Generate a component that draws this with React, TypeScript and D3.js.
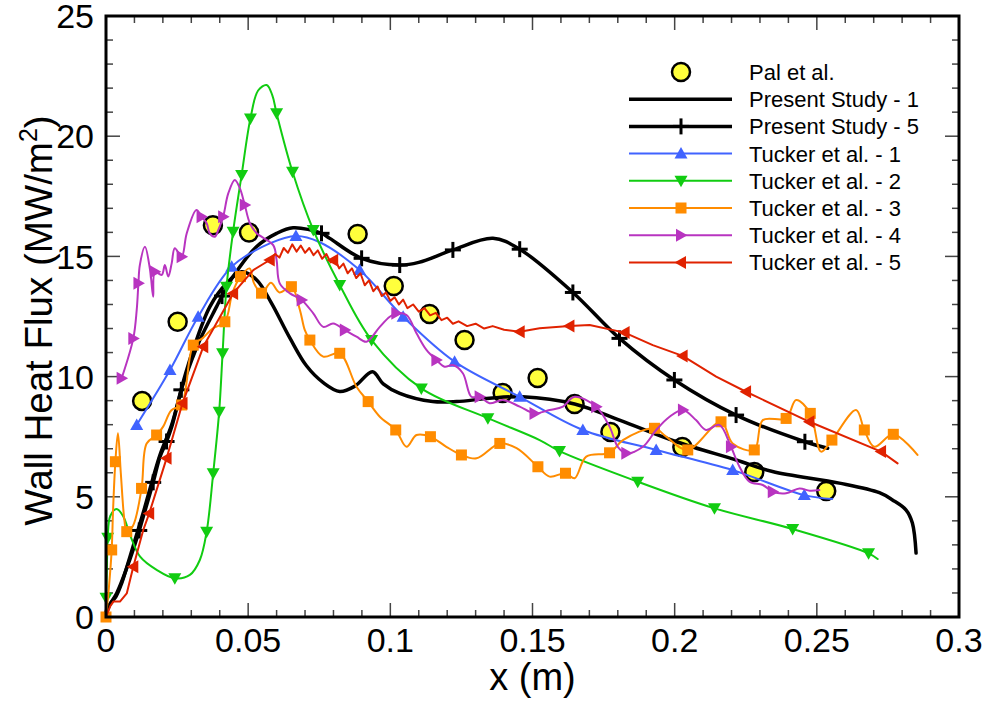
import React from "react";
import * as d3 from "d3";

type Pt = [number, number];

// experimental data (yellow circles)
const palEtAl: Pt[] = [
  [0.0127, 8.99], [0.0252, 12.28], [0.0376, 16.3], [0.0503, 15.99], [0.0885, 15.93],
  [0.1012, 13.77], [0.1138, 12.6], [0.1261, 11.52], [0.1395, 9.32], [0.1518, 9.94],
  [0.1648, 8.86], [0.1774, 7.7], [0.2027, 7.07], [0.228, 6.03], [0.2533, 5.24],
];

const presentStudy1: Pt[] = [
  [0, 0.1], [0.0015, 0.55], [0.0035, 0.85], [0.0055, 1.4], [0.0084, 2.5], [0.013, 4.3],
  [0.019, 6.75], [0.0231, 8.0], [0.0272, 9.8], [0.0306, 11.1], [0.0365, 12.9], [0.0424, 13.88],
  [0.0477, 14.36], [0.053, 14.02], [0.058, 13.1], [0.0647, 11.6], [0.0705, 10.45], [0.0764, 9.75],
  [0.0822, 9.38], [0.0875, 9.6], [0.0937, 10.2], [0.0975, 9.7], [0.1033, 9.3], [0.1149, 8.96],
  [0.1233, 8.96], [0.1349, 9.1], [0.1465, 9.16], [0.1648, 8.86], [0.1806, 8.19], [0.2006, 7.29],
  [0.2217, 6.53], [0.2344, 6.05], [0.2579, 5.57], [0.272, 5.17], [0.2766, 4.87], [0.2814, 4.45],
  [0.2836, 3.91], [0.2849, 2.66],
];

const presentStudy5: Pt[] = [
  [0, 0.05], [0.0002, 0.29], [0.0038, 1.0], [0.0084, 2.4], [0.0117, 3.6], [0.0131, 4.17],
  [0.0166, 5.6], [0.019, 6.67], [0.0213, 7.3], [0.0231, 7.9], [0.0265, 9.45], [0.0272, 9.72],
  [0.033, 11.52], [0.0389, 12.91], [0.0408, 13.35], [0.0447, 14.16], [0.053, 15.41], [0.06, 15.96],
  [0.0658, 16.19], [0.0758, 15.96], [0.0787, 15.75], [0.0899, 14.92], [0.1033, 14.64], [0.11, 14.75],
  [0.122, 15.27], [0.1361, 15.75], [0.1455, 15.3], [0.1642, 13.5], [0.1806, 11.59], [0.1999, 9.86],
  [0.2216, 8.4], [0.2458, 7.29], [0.2538, 7.02],
];
const presentStudy5Marks = [
  0.0117, 0.0166, 0.0213, 0.0265, 0.0408, 0.0758, 0.0899, 0.1033, 0.122, 0.1455, 0.1642,
  0.1806, 0.1999, 0.2216, 0.2458,
];

const tucker1: Pt[] = [
  [0.0108, 7.99], [0.0225, 10.27], [0.0324, 12.49], [0.0442, 14.57], [0.0576, 15.54],
  [0.0668, 15.85], [0.075, 15.6], [0.0892, 14.43], [0.1045, 12.49], [0.1226, 10.62],
  [0.1455, 9.16], [0.1677, 7.78], [0.1935, 6.95], [0.2204, 6.11], [0.2456, 5.07], [0.2554, 4.91],
];
const tucker1Marks = [
  0.0108, 0.0225, 0.0324, 0.0442, 0.0668, 0.0892, 0.1045, 0.1226, 0.1455, 0.1677, 0.1935,
  0.2204, 0.2456,
];

const tucker2: Pt[] = [
  [0, 0.8], [0.0003, 2.0], [0.0006, 3.3], [0.0015, 4.2], [0.0037, 4.49], [0.006, 4.2],
  [0.0085, 3.4], [0.012, 2.51], [0.0178, 1.96], [0.0242, 1.61], [0.0295, 1.75], [0.033, 2.37],
  [0.0354, 3.55], [0.0377, 5.98], [0.0398, 8.54], [0.041, 10.97], [0.0424, 13.74], [0.0447, 16.03],
  [0.0477, 18.39], [0.0508, 20.74], [0.0535, 21.9], [0.0565, 22.13], [0.0585, 21.7], [0.06, 20.95],
  [0.0656, 18.52], [0.0729, 16.1], [0.0822, 13.81], [0.0934, 11.52], [0.1109, 9.51], [0.1343, 8.27],
  [0.1525, 7.36], [0.1595, 6.9], [0.187, 5.63], [0.214, 4.52], [0.2415, 3.66], [0.2682, 2.65],
  [0.2714, 2.41],
];
const tucker2Marks = [
  0, 0.0006, 0.0242, 0.0354, 0.0377, 0.0398, 0.041, 0.0424, 0.0447, 0.0477, 0.0508, 0.06,
  0.0656, 0.0729, 0.0822, 0.0934, 0.1109, 0.1343, 0.1595, 0.187, 0.214, 0.2415, 0.2682,
];

const tucker3: Pt[] = [
  [0, 0], [0.001, 1.2], [0.002, 2.79], [0.0025, 4.5], [0.0033, 6.46], [0.0042, 7.64], [0.0052, 6.0],
  [0.0065, 4.0], [0.0073, 3.55], [0.0095, 3.8], [0.0125, 5.35], [0.0143, 7.22], [0.0178, 7.57],
  [0.0201, 7.92], [0.023, 8.6], [0.0266, 8.82], [0.028, 9.5], [0.0307, 11.31], [0.034, 11.6],
  [0.0375, 12.0], [0.0418, 12.28], [0.0445, 13.5], [0.0473, 14.16], [0.0505, 14.5], [0.052, 13.9],
  [0.0547, 13.47], [0.058, 13.9], [0.061, 13.5], [0.0652, 13.74], [0.0682, 12.77], [0.0699, 11.94],
  [0.0717, 11.52], [0.0764, 10.83], [0.0822, 10.97], [0.0881, 9.58], [0.0922, 8.96], [0.0963, 8.33],
  [0.1019, 7.78], [0.1057, 7.08], [0.1092, 7.57], [0.1141, 7.5], [0.1197, 7.08], [0.125, 6.74],
  [0.1303, 6.6], [0.1385, 7.22], [0.1444, 7.02], [0.1519, 6.25], [0.156, 5.84], [0.1616, 5.98],
  [0.1648, 5.77], [0.1689, 6.67], [0.1771, 6.83], [0.1818, 7.36], [0.1929, 7.85], [0.197, 7.5],
  [0.2046, 6.95], [0.2163, 8.12], [0.2204, 7.22], [0.228, 6.95], [0.231, 8.19], [0.2392, 8.26],
  [0.2427, 9.03], [0.2477, 8.47], [0.2515, 6.88], [0.2553, 7.36], [0.2638, 8.61], [0.2667, 7.78],
  [0.2702, 7.08], [0.2769, 7.6], [0.2854, 6.74],
];
const tucker3Marks = [
  0, 0.002, 0.0033, 0.0073, 0.0125, 0.0178, 0.0266, 0.0307, 0.0418, 0.0473, 0.0547, 0.0652,
  0.0717, 0.0822, 0.0922, 0.1019, 0.1141, 0.125, 0.1385, 0.1519, 0.1616, 0.1771, 0.1929, 0.2046,
  0.2163, 0.228, 0.2392, 0.2477, 0.2553, 0.2667, 0.2769,
];

const tucker4: Pt[] = [
  [0.0055, 9.93], [0.0096, 11.59], [0.0108, 12.77], [0.0114, 13.88], [0.0119, 14.64], [0.0137, 15.4],
  [0.0155, 14.43], [0.0166, 13.32], [0.0172, 14.36], [0.0196, 14.23], [0.0207, 14.64], [0.0219, 14.16],
  [0.0231, 14.71], [0.0242, 15.34], [0.0266, 14.99], [0.0284, 15.96], [0.0318, 16.93], [0.0336, 16.65],
  [0.0354, 16.38], [0.0365, 15.96], [0.0383, 15.82], [0.0395, 16.1], [0.0412, 16.65], [0.043, 17.62],
  [0.0453, 18.18], [0.0471, 17.83], [0.0488, 17.14], [0.0506, 16.38], [0.053, 15.96], [0.0588, 15.47],
  [0.06, 14.85], [0.0611, 13.88], [0.0647, 13.46], [0.0688, 13.19], [0.0729, 12.63], [0.0764, 12.07],
  [0.0799, 12.21], [0.084, 11.94], [0.0881, 11.66], [0.0916, 11.45], [0.0963, 12.07], [0.0998, 12.49],
  [0.1021, 12.63], [0.1057, 12.56], [0.1092, 11.8], [0.1127, 11.11], [0.1162, 10.69], [0.1191, 10.41],
  [0.122, 10.48], [0.1255, 10.14], [0.1285, 9.16], [0.1314, 9.16], [0.1349, 8.89], [0.1396, 9.03],
  [0.1455, 8.75], [0.1507, 8.47], [0.156, 8.61], [0.1607, 8.75], [0.1648, 9.16], [0.1724, 8.75],
  [0.1771, 7.92], [0.18, 7.08], [0.183, 6.81], [0.1888, 7.08], [0.1935, 7.78], [0.1982, 8.33],
  [0.2029, 8.61], [0.2075, 8.19], [0.211, 7.78], [0.2157, 7.99], [0.2198, 7.08], [0.2228, 6.25],
  [0.2263, 5.63], [0.231, 5.49], [0.2345, 5.21], [0.2392, 5.15], [0.2439, 5.35], [0.2475, 5.25],
  [0.2509, 5.28],
];
const tucker4Marks = [
  0.0055, 0.0096, 0.0114, 0.0172, 0.0266, 0.0336, 0.0412, 0.0488, 0.0688, 0.084, 0.1021, 0.1162,
  0.1314, 0.1507, 0.1724, 0.183, 0.2029, 0.2198, 0.2345,
];

const tucker5: Pt[] = [
  [0, 0], [0.0015, 0.45], [0.0026, 0.64], [0.0049, 0.64], [0.0073, 0.98], [0.0096, 2.09],
  [0.0131, 3.62], [0.0152, 4.31], [0.0213, 6.6], [0.0269, 8.89], [0.0342, 11.24], [0.0447, 13.46],
  [0.0518, 14.43], [0.0576, 14.85], [0.0595, 15.1], [0.061, 14.95], [0.0625, 15.35], [0.064, 15.15],
  [0.0655, 15.5], [0.067, 15.2], [0.0685, 15.45], [0.07, 15.15], [0.0715, 15.35], [0.073, 15.05],
  [0.0745, 15.25], [0.076, 14.9], [0.0775, 15.1], [0.079, 14.75], [0.0805, 14.9], [0.082, 14.5],
  [0.0835, 14.7], [0.085, 14.3], [0.0865, 14.5], [0.088, 14.1], [0.0895, 14.3], [0.091, 13.8],
  [0.0925, 14.0], [0.094, 13.55], [0.0955, 13.75], [0.097, 13.35], [0.0985, 13.5], [0.1, 13.15],
  [0.1015, 13.3], [0.103, 13.0], [0.1045, 13.2], [0.106, 12.85], [0.108, 13.0], [0.11, 12.7],
  [0.112, 12.85], [0.114, 12.55], [0.116, 12.65], [0.118, 12.35], [0.12, 12.45], [0.122, 12.2],
  [0.124, 12.3], [0.127, 12.1], [0.13, 12.2], [0.133, 12.0], [0.136, 12.1], [0.14, 11.95],
  [0.1455, 11.87], [0.1525, 12.01], [0.163, 12.1], [0.1701, 12.15], [0.1824, 11.83], [0.1923, 11.31],
  [0.2028, 10.86], [0.2146, 10.0], [0.2251, 9.37], [0.2474, 8.12], [0.2726, 6.88], [0.2784, 6.39],
];
const tucker5Marks = [
  0.0096, 0.0152, 0.0213, 0.0269, 0.0342, 0.0447, 0.0576, 0.0799, 0.1455, 0.163, 0.1824, 0.2028,
  0.2251, 0.2474, 0.2726,
];

const xTicks = [0, 0.05, 0.1, 0.15, 0.2, 0.25, 0.3];
const xTickLabels = ["0", "0.05", "0.1", "0.15", "0.2", "0.25", "0.3"];
const yTicks = [0, 5, 10, 15, 20, 25];

type MarkerKind = "circle" | "plus" | "up" | "down" | "square" | "right" | "left" | "none";

const FONT = "'Liberation Sans', Arial, Helvetica, sans-serif";

const W = 987;
const H = 702;
const L = 106, R = 959, T = 16, B = 617;

const x = d3.scaleLinear().domain([0, 0.3]).range([L, R]);
const y = d3.scaleLinear().domain([0, 25]).range([B, T]);

const interp = (pts: Pt[], xv: number): number => {
  for (let i = 0; i < pts.length; i++) {
    if (pts[i][0] === xv) return pts[i][1];
  }
  for (let i = 1; i < pts.length; i++) {
    const [x0, y0] = pts[i - 1];
    const [x1, y1] = pts[i];
    if (xv >= x0 && xv <= x1) return y0 + ((xv - x0) / (x1 - x0)) * (y1 - y0);
  }
  return pts[pts.length - 1][1];
};

const Marker = ({ kind, cx, cy, color }: { kind: MarkerKind; cx: number; cy: number; color: string }) => {
  const t = `translate(${cx},${cy})`;
  switch (kind) {
    case "circle":
      return <circle cx={cx} cy={cy} r={9} fill="#ffff3c" stroke="#000" strokeWidth={2.5} />;
    case "plus":
      return (
        <g transform={t} stroke="#000" strokeWidth={3}>
          <line x1={-8} x2={8} y1={0} y2={0} />
          <line x1={0} x2={0} y1={-8} y2={8} />
        </g>
      );
    case "up":
      return <path transform={t} d="M0,-6.5L6.5,5L-6.5,5Z" fill={color} />;
    case "down":
      return <path transform={t} d="M0,6.5L6.5,-5L-6.5,-5Z" fill={color} />;
    case "right":
      return <path transform={t} d="M6.5,0L-5,-6.5L-5,6.5Z" fill={color} />;
    case "left":
      return <path transform={t} d="M-6.5,0L5,-6.5L5,6.5Z" fill={color} />;
    case "square":
      return <rect x={cx - 5.5} y={cy - 5.5} width={11} height={11} fill={color} />;
    default:
      return null;
  }
};

interface Series {
  label: string;
  color: string;
  width: number;
  marker: MarkerKind;
  data: Pt[];
  marks: number[];
  curve: d3.CurveFactory;
}

const smooth = d3.curveCatmullRom.alpha(0.5);

const series: Series[] = [
  { label: "Present Study - 1", color: "#000", width: 3.5, marker: "none", data: presentStudy1, marks: [], curve: smooth },
  { label: "Present Study - 5", color: "#000", width: 3.5, marker: "plus", data: presentStudy5, marks: presentStudy5Marks, curve: smooth },
  { label: "Tucker et al. - 1", color: "#4063ff", width: 2, marker: "up", data: tucker1, marks: tucker1Marks, curve: smooth },
  { label: "Tucker et al. - 2", color: "#11cc11", width: 2, marker: "down", data: tucker2, marks: tucker2Marks, curve: smooth },
  { label: "Tucker et al. - 3", color: "#ff8c00", width: 2, marker: "square", data: tucker3, marks: tucker3Marks, curve: smooth },
  { label: "Tucker et al. - 4", color: "#b834c0", width: 2, marker: "right", data: tucker4, marks: tucker4Marks, curve: smooth },
  { label: "Tucker et al. - 5", color: "#e02200", width: 2, marker: "left", data: tucker5, marks: tucker5Marks, curve: d3.curveLinear },
];

export default function App() {
  const minorX = d3.range(0, 0.3001, 0.01);
  const minorY = d3.range(0, 25.001, 1);
  const legendRow = (i: number) => 72 + i * 27.2;

  return (
    <svg
      width={W}
      height={H}
      style={{ position: "absolute", left: 0, top: 0, background: "#fff" }}
      fontFamily={FONT}
    >
      <rect x={0} y={0} width={W} height={H} fill="#fff" />

      {/* ticks, inward on all four sides */}
      <g stroke="#444" strokeWidth={1.5}>
        {minorX.map((v, i) => {
          const major = i % 5 === 0;
          const len = major ? 14 : 7;
          const px = x(v);
          return (
            <g key={"x" + i}>
              <line x1={px} x2={px} y1={B} y2={B - len} />
              <line x1={px} x2={px} y1={T} y2={T + len} />
            </g>
          );
        })}
        {minorY.map((v, i) => {
          const major = i % 5 === 0;
          const len = major ? 14 : 7;
          const py = y(v);
          return (
            <g key={"y" + i}>
              <line x1={L} x2={L + len} y1={py} y2={py} />
              <line x1={R} x2={R - len} y1={py} y2={py} />
            </g>
          );
        })}
      </g>

      {/* experimental points underneath */}
      {palEtAl.map((d, i) => (
        <Marker key={"p" + i} kind="circle" cx={x(d[0])} cy={y(d[1])} color="#ffff3c" />
      ))}

      {series.map((s) => {
        const line = d3
          .line<Pt>()
          .x((d) => x(d[0]))
          .y((d) => y(d[1]))
          .curve(s.curve);
        return (
          <g key={s.label}>
            <path d={line(s.data) || ""} fill="none" stroke={s.color} strokeWidth={s.width} strokeLinejoin="round" strokeLinecap="round" />
            {s.marks.map((m, j) => (
              <Marker key={j} kind={s.marker} cx={x(m)} cy={y(interp(s.data, m))} color={s.color} />
            ))}
          </g>
        );
      })}

      {/* frame */}
      <rect x={L} y={T} width={R - L} height={B - T} fill="none" stroke="#000" strokeWidth={3} />

      {/* tick labels */}
      <g fontSize={34} fill="#000">
        {xTicks.map((v, i) => (
          <text key={"xl" + i} x={x(v)} y={652} textAnchor="middle">
            {xTickLabels[i]}
          </text>
        ))}
        {yTicks.map((v) => (
          <text key={"yl" + v} x={94} y={y(v)} dy="0.36em" textAnchor="end">
            {v}
          </text>
        ))}
      </g>

      {/* axis titles */}
      <text x={x(0.15)} y={690} textAnchor="middle" fontSize={38} fill="#000">
        x (m)
      </text>
      <text transform={`translate(52,${(T + B) / 2 + 4}) rotate(-90)`} textAnchor="middle" fontSize={38.5} fill="#000">
        Wall Heat Flux (MW/m
        <tspan dy={-15} fontSize={25}>2</tspan>
        <tspan dy={15}>)</tspan>
      </text>

      {/* legend */}
      <g fontSize={22} fill="#000">
        <Marker kind="circle" cx={681} cy={legendRow(0)} color="#ffff3c" />
        <text x={749} y={legendRow(0)} dy="0.36em">Pal et al.</text>
        {series.map((s, i) => {
          const ly = legendRow(i + 1);
          return (
            <g key={"lg" + i}>
              <line x1={629} x2={732} y1={ly} y2={ly} stroke={s.color} strokeWidth={s.width} />
              <Marker kind={s.marker} cx={681} cy={ly} color={s.color} />
              <text x={749} y={ly} dy="0.36em">{s.label}</text>
            </g>
          );
        })}
      </g>
    </svg>
  );
}
